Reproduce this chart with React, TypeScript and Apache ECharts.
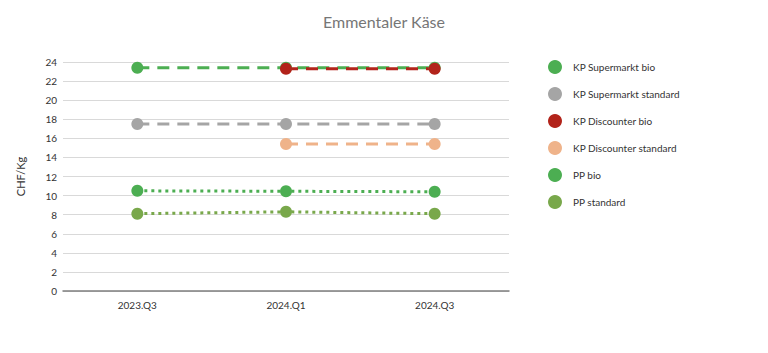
import React, { useEffect, useRef } from "react";
import * as echarts from "echarts";

const categories = ["2023.Q3", "2024.Q1", "2024.Q3"];
const kpSupermarktBio = [23.4, 23.4, 23.4];
const kpSupermarktStandard = [17.5, 17.5, 17.5];
const kpDiscounterBio = [null, 23.3, 23.3];
const kpDiscounterStandard = [null, 15.4, 15.4];
const ppBio = [10.5, 10.45, 10.4];
const ppStandard = [8.1, 8.3, 8.1];

const FONT = "Lato, 'Open Sans', sans-serif";

function mk(name: string, data: (number | null)[], color: string, dash: number[]) {
  return {
    name,
    type: "line",
    data,
    symbol: "circle",
    symbolSize: 12,
    connectNulls: false,
    itemStyle: { color },
    lineStyle: { color, width: 3, type: dash, cap: "butt" },
    emphasis: { disabled: true },
  };
}

export default function App() {
  const ref = useRef<HTMLDivElement>(null);
  useEffect(() => {
    document.body.style.margin = "0";
    const chart = echarts.init(ref.current!, undefined, { renderer: "svg" });
    chart.setOption({
      animation: false,
      backgroundColor: "#ffffff",
      title: {
        text: "Emmentaler Käse",
        left: "center",
        top: 13,
        padding: 0,
        textStyle: { fontFamily: FONT, fontSize: 16, fontWeight: "normal", color: "#767676" },
      },
      legend: {
        orient: "vertical",
        left: 548,
        top: 60,
        padding: 0,
        itemWidth: 14,
        itemHeight: 14,
        itemGap: 13,
        icon: "circle",
        textStyle: { fontFamily: FONT, fontSize: 10, color: "#333", padding: [0, 0, 0, 6] },
      },
      grid: { left: 63, right: 259, top: 62, bottom: 62, containLabel: false },
      xAxis: {
        type: "category",
        data: categories,
        boundaryGap: true,
        axisLine: { lineStyle: { color: "#7f7f7f", width: 1.5 } },
        axisTick: { show: false },
        axisLabel: { fontFamily: FONT, fontSize: 10, color: "#333", margin: 9 },
      },
      yAxis: {
        type: "value",
        min: 0,
        max: 24,
        interval: 2,
        name: "CHF/Kg",
        nameLocation: "middle",
        nameGap: 37,
        nameTextStyle: { fontFamily: FONT, fontSize: 11, color: "#333" },
        axisLine: { show: false },
        axisTick: { show: false },
        axisLabel: { fontFamily: FONT, fontSize: 10, color: "#333", margin: 6 },
        splitLine: { lineStyle: { color: "#d9d9d9", width: 1 } },
      },
      series: [
        mk("KP Supermarkt bio", kpSupermarktBio, "#4cae52", [12, 8]),
        mk("KP Supermarkt standard", kpSupermarktStandard, "#a5a5a5", [12, 8]),
        mk("KP Discounter bio", kpDiscounterBio, "#b2231a", [12, 8]),
        mk("KP Discounter standard", kpDiscounterStandard, "#efb38a", [12, 8]),
        mk("PP bio", ppBio, "#4cae52", [3, 4]),
        mk("PP standard", ppStandard, "#79a84b", [3, 4]),
      ],
    });
    return () => chart.dispose();
  }, []);
  return <div ref={ref} style={{ width: 768, height: 353 }} />;
}
